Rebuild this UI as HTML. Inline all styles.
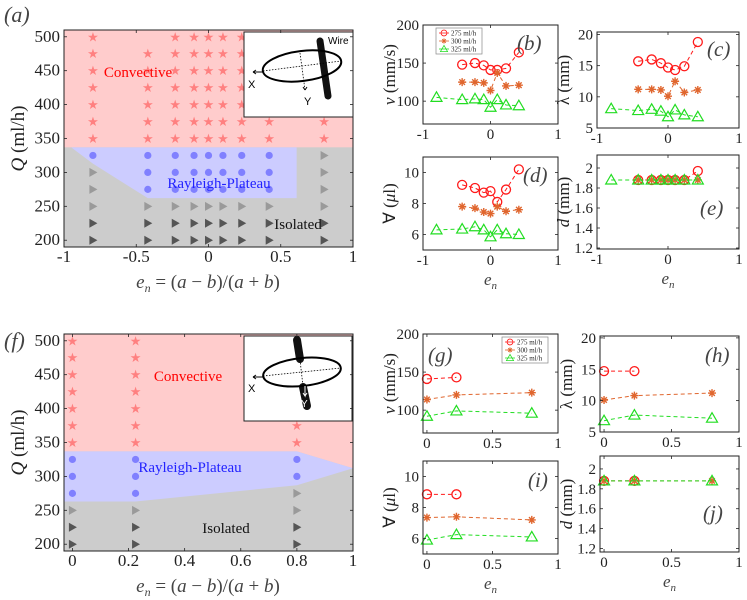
<!DOCTYPE html>
<html><head><meta charset="utf-8"><style>
html,body{margin:0;padding:0;background:#fff;}
svg{display:block;font-family:"Liberation Serif",serif;}
</style></head><body>
<svg id="fig" width="747" height="600" viewBox="0 0 747 600" xmlns="http://www.w3.org/2000/svg"></svg>
<script>
// ---------- data ----------
const Q_ROWS = [200,225,250,275,300,325,350,375,400,425,450,475,500];
// panel a columns (e_n) and regime per Q
const A_COLS = [-0.8,-0.42,-0.23,-0.1,0,0.1,0.23,0.42,0.8];
const A_STAR_MINQ = [350,350,350,350,350,350,350,350,350];
const A_STAR_MAXQ = [500,475,500,500,500,500,500,375,375];
const A_CIRC_MINQ = [325,275,275,275,275,275,275,275,999];
const A_TRI_LIGHT_MIN = [250,250,250,250,250,250,250,250,250];
const F_COLS = [0,0.225,0.8];
const F_STAR_MAXQ = [500,500,375];
const F_CIRC_MINQ = [275,275,300];
// regime boundaries (e_n, Q)
const A_RP_POLY = [[-0.95,337],[-0.8,313],[-0.42,262],[0.61,262],[0.61,337]];
const A_CONV_Q = 337;
const F_CONV_POLY = [[-0.03,337],[0.8,337],[1,312]];
const F_ISO_POLY = [[-0.03,263],[0.225,263],[0.8,287],[1,312]];

// small panels (top row)
const EN_TOP = [-0.42,-0.23,-0.1,0,0.1,0.23,0.42];
const EN_TOP325 = [-0.8,-0.42,-0.23,-0.1,0,0.1,0.23,0.42];
const V275 = [148,150,147,141,141,143,164];
const V300 = [125,125,124,114,137,120,121];
const V325 = [105,102,103,102,92,102,95,94];
const L275 = [15.7,16.0,15.4,14.7,14.3,14.9,18.8];
const L300 = [11.2,11.2,11.1,10.1,12.5,10.7,11.1];
const L325 = [8.1,7.8,8.0,7.7,6.8,7.9,7.1,6.8];
const VOL275 = [9.2,9.0,8.7,8.8,8.1,8.9,10.2];
const VOL300 = [7.8,7.7,7.45,7.35,7.8,7.5,7.6];
const VOL325 = [6.3,6.35,6.5,6.3,5.85,6.3,6.05,6.0];
const D275 = [1.88,1.88,1.88,1.88,1.88,1.88,1.97];
const D300 = [1.88,1.88,1.88,1.88,1.88,1.88,1.88];
const D325 = [1.88,1.88,1.88,1.88,1.88,1.88,1.88,1.88];
// bottom row
const EN_B275 = [0,0.225];
const EN_B = [0,0.225,0.8];
const GV275 = [141,143], GV300 = [114,120,123], GV325 = [92,99,96];
const GL275 = [14.7,14.7], GL300 = [10.1,10.8,11.2], GL325 = [6.8,7.7,7.2];
const GVOL275 = [8.85,8.85], GVOL300 = [7.35,7.4,7.2], GVOL325 = [5.9,6.25,6.1];
const GD275 = [1.88,1.88], GD300 = [1.88,1.88,1.88], GD325 = [1.88,1.88,1.88];

// ---------- helpers ----------
const NS="http://www.w3.org/2000/svg";
const svg=document.getElementById('fig');
function mk(tag,attrs,parent,text){const e=document.createElementNS(NS,tag);for(const k in attrs)e.setAttribute(k,attrs[k]);if(text!==undefined)e.textContent=text;(parent||svg).appendChild(e);return e;}
function scale(d0,d1,p0,p1){return v=>p0+(v-d0)/(d1-d0)*(p1-p0);}
const RED='#ff1a1a',ORG='#e0662e',GRN='#22dd22';

function frame(g,b,sx,sy,xt,yt,xtl,ytl,fs){
  // ticks
  xt.forEach((t,i)=>{const x=sx(t);
    mk('line',{x1:x,y1:b[3],x2:x,y2:b[3]-3,stroke:'#222','stroke-width':0.8},g);
    mk('line',{x1:x,y1:b[1],x2:x,y2:b[1]+3,stroke:'#222','stroke-width':0.8},g);
    const e=mk('text',{x:x,y:b[3]+15,'text-anchor':'middle','font-size':fs,fill:'#222'},g,xtl[i]);
    
    });
  yt.forEach((t,i)=>{const y=sy(t);
    mk('line',{x1:b[0],y1:y,x2:b[0]+3,y2:y,stroke:'#222','stroke-width':0.8},g);
    mk('line',{x1:b[2],y1:y,x2:b[2]-3,y2:y,stroke:'#222','stroke-width':0.8},g);
    const e=mk('text',{x:b[0]-4,y:y+5,'text-anchor':'end','font-size':fs,fill:'#222'},g,ytl[i]);
    
    });
  const r=mk('rect',{x:b[0],y:b[1],width:b[2]-b[0],height:b[3]-b[1],fill:'none',stroke:'#222','stroke-width':1},g);
  
  
}
function marker(g,type,x,y,col){
  if(type==='o'){mk('circle',{cx:x,cy:y,r:4.5,fill:'none',stroke:col,'stroke-width':1.3},g);}
  else if(type==='^'){mk('polygon',{points:`${x},${y-5.5} ${x-5.5},${y+4} ${x+5.5},${y+4}`,fill:'none',stroke:col,'stroke-width':1.2},g);}
  else{const s=4;mk('path',{d:`M${x-s},${y}H${x+s}M${x},${y-s}V${y+s}M${x-s*.7},${y-s*.7}L${x+s*.7},${y+s*.7}M${x-s*.7},${y+s*.7}L${x+s*.7},${y-s*.7}`,stroke:col,'stroke-width':1.4},g);}
}
function series(g,sx,sy,xs,ys,type,col,name){
  const s=mk('g',{},g);
  
  
  mk('polyline',{points:xs.map((x,i)=>sx(x)+','+sy(ys[i])).join(' '),fill:'none',stroke:col,'stroke-width':1,'stroke-dasharray':'4,3'},s);
  xs.forEach((x,i)=>marker(s,type,sx(x),sy(ys[i]),col));
}
function ylab(g,x,y,html,fs){const t=mk('text',{transform:`translate(${x},${y}) rotate(-90)`,'text-anchor':'middle','font-size':fs,fill:'#222'},g);t.innerHTML=html;return t;}

function smallPanel(name,b,xl,yl,xt,xtl,yt,ytl,ser,label,labPos,ylabel,xlabel){
  const g=mk('g',{});
  
  
  const sx=scale(xl[0],xl[1],b[0],b[2]),sy=scale(yl[0],yl[1],b[3],b[1]);
  mk('rect',{x:b[0],y:b[1],width:b[2]-b[0],height:b[3]-b[1],fill:'#fff'},g);
  ser.forEach(s=>series(g,sx,sy,s[0],s[1],s[2],s[3],s[4]));
  frame(g,b,sx,sy,xt,yt,xtl,ytl,15);
  const pl=mk('text',{x:labPos[0],y:labPos[1],'font-size':21,fill:'#444','font-style':'italic'},g,label);
  
  
  const yt2=ylab(g,b[0]-28,(b[1]+b[3])/2,ylabel,17);
  
  
  if(xlabel){const xt2=mk('text',{x:(b[0]+b[2])/2,y:b[3]+35,'text-anchor':'middle','font-size':17,fill:'#444','font-style':'italic'},g);
    xt2.innerHTML='e<tspan font-size="11" dy="4">n</tspan>';
    
    }
  return g;
}
function legend(x,y){
  const g=mk('g',{});
  
  
  mk('rect',{x:x,y:y,width:46,height:26,fill:'#fff',stroke:'#888','stroke-width':0.7},g);
  [['275 ml/h','o',RED],['300 ml/h','*',ORG],['325 ml/h','^',GRN]].forEach((e,i)=>{
    const yy=y+5+i*8;
    const it=mk('g',{},g);
    
    
    mk('line',{x1:x+3,y1:yy,x2:x+13,y2:yy,stroke:e[2],'stroke-width':0.8},it);
    const m=mk('g',{transform:`translate(${x+8},${yy}) scale(0.65) translate(${-(x+8)},${-yy})`},it);
    marker(m,e[1],x+8,yy,e[2]);
    mk('text',{x:x+15,y:yy+2.5,'font-size':7,fill:'#222'},it,e[0]);
  });
}

// ---------- regime maps ----------
function regimeMap(name,b,xl,xt,xtl,cols,starMax,circMin,triLightMin,drawRegions,texts,label,inset){
  const g=mk('g',{});
  
  
  const sx=scale(xl[0],xl[1],b[0],b[2]),sy=scale(190,510,b[3],b[1]);
  mk('rect',{x:b[0],y:b[1],width:b[2]-b[0],height:b[3]-b[1],fill:'#cccccc'},g);
  drawRegions(g,sx,sy);
  cols.forEach((c,i)=>{
    Q_ROWS.forEach(q=>{
      const x=sx(c),y=sy(q);
      if(q>=350&&q<=starMax[i]){
        const s=mk('text',{x:x,y:y+4.5,'text-anchor':'middle','font-size':13,fill:'#ff8080','font-family':'DejaVu Sans'},g,'★');
        
        
      } else if(q<350&&q>=circMin[i]){
        const s=mk('circle',{cx:x,cy:y,r:3.6,fill:'#8080ff'},g);
        
        
      } else if(q<350){
        const s=mk('polygon',{points:`${x-3.5},${y-4.5} ${x+4.5},${y} ${x-3.5},${y+4.5}`,fill:q>=triLightMin[i]?'#9a9a9a':'#555'},g);
        
        
      }
    });
  });
  texts.forEach(t=>{const e=mk('text',{x:t[0],y:t[1],'text-anchor':'middle','font-size':15,fill:t[3]},g,t[2]);
    
    });
  inset(g);
  frame(g,b,sx,sy,xt,[200,250,300,350,400,450,500],xtl,['200','250','300','350','400','450','500'],17);
  const yt=ylab(g,24,(b[1]+b[3])/2,'<tspan font-style="italic">Q</tspan> (ml/h)',19);
  
  
  const xt2=mk('text',{x:208,y:b[3]+41,'text-anchor':'middle','font-size':19,fill:'#444'},g);
  xt2.innerHTML='<tspan font-style="italic">e</tspan><tspan font-size="12" dy="4" font-style="italic">n</tspan><tspan dy="-4"> = (</tspan><tspan font-style="italic">a</tspan> − <tspan font-style="italic">b</tspan>)/(<tspan font-style="italic">a</tspan> + <tspan font-style="italic">b</tspan>)';
  
  
  const pl=mk('text',{x:label[1],y:label[2],'font-size':22,fill:'#444','font-style':'italic'},g,label[0]);
  
  
}

// panel a
regimeMap('regime-map-a',[64,30,353,247],[-1,1],[-1,-0.5,0,0.5,1],['-1','-0.5','0','0.5','1'],
  A_COLS,A_STAR_MAXQ,A_CIRC_MINQ,A_TRI_LIGHT_MIN,
  (g,sx,sy)=>{
    mk('rect',{x:64,y:30,width:289,height:sy(A_CONV_Q)-30,fill:'#ffcccc'},g);
    mk('polygon',{points:A_RP_POLY.map(p=>sx(p[0])+','+sy(p[1])).join(' '),fill:'#ccccff'},g);
  },
  [[138,77,'Convective','#ff0000'],[219,188,'Rayleigh-Plateau','#2222ff'],[298,229,'Isolated','#111']],
  ['(a)',4,22],
  g=>{
    const ig=mk('g',{},g);
    
    
    mk('rect',{x:244,y:32,width:109,height:85,fill:'#fff',stroke:'#222','stroke-width':1},ig);
    mk('line',{x1:320,y1:41,x2:328,y2:96,stroke:'#111','stroke-width':7,'stroke-linecap':'round'},ig);
    mk('ellipse',{cx:302,cy:66,rx:39.5,ry:15,transform:'rotate(-7 302 66)',fill:'none',stroke:'#000','stroke-width':2},ig);
    mk('line',{x1:263,y1:71,x2:341,y2:61,stroke:'#000','stroke-width':0.8,'stroke-dasharray':'1.5,1.5'},ig);
    mk('line',{x1:300,y1:53,x2:305,y2:90,stroke:'#000','stroke-width':0.8,'stroke-dasharray':'1.5,1.5'},ig);
    mk('path',{d:'M263,72 L253,72 M253,72 l3,-2 M253,72 l3,2 M305,90 l-2,-3 M305,90 l2,-3',stroke:'#000','stroke-width':1,fill:'none'},ig);
    mk('text',{x:248,y:88,'font-size':11,'font-family':'Liberation Sans'},ig,'X');
    mk('text',{x:304,y:105,'font-size':11,'font-family':'Liberation Sans'},ig,'Y');
    mk('text',{x:328,y:44,'font-size':10,'font-family':'Liberation Sans'},ig,'Wire');
  });

// panel f
regimeMap('regime-map-f',[64,334,353,551],[-0.03,1],[0,0.2,0.4,0.6,0.8,1],['0','0.2','0.4','0.6','0.8','1'],
  F_COLS,F_STAR_MAXQ,F_CIRC_MINQ,[250,250,250],
  (g,sx,sy)=>{
    mk('polygon',{points:`${sx(-0.03)},${sy(510)} ${sx(1)},${sy(510)} `+F_CONV_POLY.slice().reverse().map(p=>sx(p[0])+','+sy(p[1])).join(' '),fill:'#ffcccc'},g);
    mk('polygon',{points:F_CONV_POLY.map(p=>sx(p[0])+','+sy(p[1])).join(' ')+' '+F_ISO_POLY.slice().reverse().map(p=>sx(p[0])+','+sy(p[1])).join(' '),fill:'#ccccff'},g);
  },
  [[188,381,'Convective','#ff0000'],[190,472,'Rayleigh-Plateau','#2222ff'],[226,533,'Isolated','#111']],
  ['(f)',4,348],
  g=>{
    const ig=mk('g',{},g);
    
    
    mk('rect',{x:244,y:336,width:108,height:85,fill:'#fff',stroke:'#222','stroke-width':1},ig);
    mk('line',{x1:297,y1:340,x2:300,y2:359,stroke:'#111','stroke-width':8,'stroke-linecap':'round'},ig);
    mk('line',{x1:303,y1:387,x2:307,y2:406,stroke:'#111','stroke-width':8,'stroke-linecap':'round'},ig);
    mk('ellipse',{cx:302,cy:372,rx:39,ry:14,transform:'rotate(-6 302 372)',fill:'none',stroke:'#000','stroke-width':2},ig);
    mk('line',{x1:263,y1:376,x2:341,y2:368,stroke:'#000','stroke-width':0.8,'stroke-dasharray':'1.5,1.5'},ig);
    mk('line',{x1:300,y1:360,x2:303,y2:386,stroke:'#000','stroke-width':0.8,'stroke-dasharray':'1.5,1.5'},ig);
    mk('path',{d:'M263,377 L253,377 M253,377 l3,-2 M253,377 l3,2 M305,386 L305,396 l-2,-3 M305,396 l2,-3',stroke:'#000','stroke-width':1,fill:'none'},ig);
    mk('path',{d:'M305,386 L305,396 l-2,-3 M305,396 l2,-3',stroke:'#fff','stroke-width':1,fill:'none'},ig);
    mk('text',{x:248,y:392,'font-size':11,'font-family':'Liberation Sans'},ig,'X');
    mk('text',{x:301,y:407,'font-size':10,'font-family':'Liberation Sans',fill:'#fff'},ig,'Y');
  });

// small panels
const XT1=[-1,0,1],XTL1=['-1','0','1'],XT2=[0,0.5,1],XTL2=['0','0.5','1'];
smallPanel('panel-b-velocity',[423,25,558,124],[-1,1],[70,200],XT1,XTL1,[100,150,200],['100','150','200'],
  [[EN_TOP,V275,'o',RED,'series-275'],[EN_TOP,V300,'*',ORG,'series-300'],[EN_TOP325,V325,'^',GRN,'series-325']],
  '(b)',[517,50],'<tspan font-style="italic">v</tspan> (mm/s)',false);
legend(436,28);
smallPanel('panel-c-wavelength',[597,32,739,128],[-1,1],[5,20.4],XT1,XTL1,[5,10,15,20],['5','10','15','20'],
  [[EN_TOP,L275,'o',RED,'series-275'],[EN_TOP,L300,'*',ORG,'series-300'],[EN_TOP325,L325,'^',GRN,'series-325']],
  '(c)',[707,56],'λ (mm)',false);
smallPanel('panel-d-volume',[423,157,558,250],[-1,1],[5,11],XT1,XTL1,[6,8,10],['6','8','10'],
  [[EN_TOP,VOL275,'o',RED,'series-275'],[EN_TOP,VOL300,'*',ORG,'series-300'],[EN_TOP325,VOL325,'^',GRN,'series-325']],
  '(d)',[523,182],'∀ (<tspan font-style="italic">μ</tspan>l)',true);
smallPanel('panel-e-diameter',[597,155,739,249],[-1,1],[1.19,2.13],XT1,XTL1,[1.2,1.4,1.6,1.8,2],['1.2','1.4','1.6','1.8','2'],
  [[EN_TOP,D275,'o',RED,'series-275'],[EN_TOP,D300,'*',ORG,'series-300'],[EN_TOP325,D325,'^',GRN,'series-325']],
  '(e)',[700,215],'<tspan font-style="italic">d</tspan> (mm)',true);
smallPanel('panel-g-velocity',[423,334,558,433],[-0.03,1],[70,200],XT2,XTL2,[100,150,200],['100','150','200'],
  [[EN_B275,GV275,'o',RED,'series-275'],[EN_B,GV300,'*',ORG,'series-300'],[EN_B,GV325,'^',GRN,'series-325']],
  '(g)',[428,362],'<tspan font-style="italic">v</tspan> (mm/s)',false);
legend(502,337);
smallPanel('panel-h-wavelength',[600,336,739,432],[-0.03,1],[5,20.3],XT2,XTL2,[5,10,15,20],['5','10','15','20'],
  [[EN_B275,GL275,'o',RED,'series-275'],[EN_B,GL300,'*',ORG,'series-300'],[EN_B,GL325,'^',GRN,'series-325']],
  '(h)',[705,362],'λ (mm)',false);
smallPanel('panel-i-volume',[423,461,558,554],[-0.03,1],[5,11],XT2,XTL2,[6,8,10],['6','8','10'],
  [[EN_B275,GVOL275,'o',RED,'series-275'],[EN_B,GVOL300,'*',ORG,'series-300'],[EN_B,GVOL325,'^',GRN,'series-325']],
  '(i)',[528,487],'∀ (<tspan font-style="italic">μ</tspan>l)',true);
smallPanel('panel-j-diameter',[600,456,739,552],[-0.03,1],[1.165,2.13],XT2,XTL2,[1.2,1.4,1.6,1.8,2],['1.2','1.4','1.6','1.8','2'],
  [[EN_B275,GD275,'o',RED,'series-275'],[EN_B,GD300,'*',ORG,'series-300'],[EN_B,GD325,'^',GRN,'series-325']],
  '(j)',[703,520],'<tspan font-style="italic">d</tspan> (mm)',true);
</script>
</body></html>
